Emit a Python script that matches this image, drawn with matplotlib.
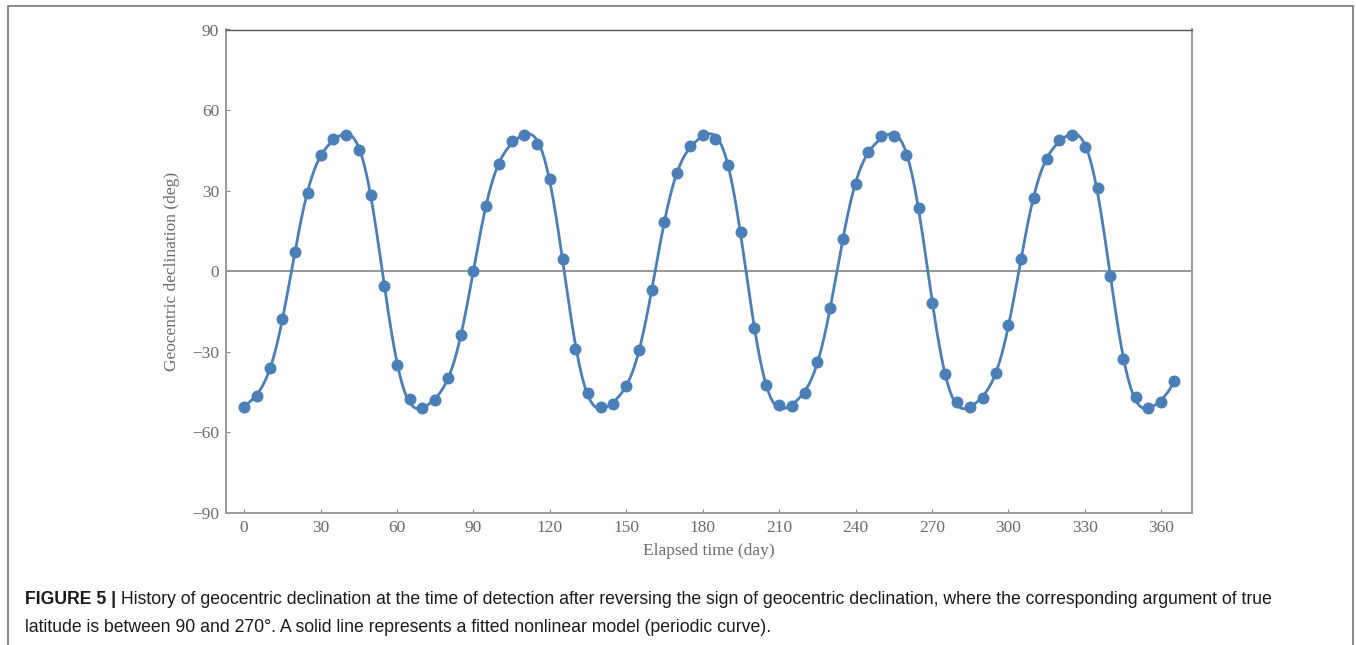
"""Geocentric declination history with a fitted periodic curve."""

import matplotlib

matplotlib.use("Agg")
import matplotlib.pyplot as plt
import numpy as np
from matplotlib.patches import Rectangle

# elapsed time (day) and geocentric declination (deg)
days = list(range(0, 370, 5))
decl = [
    -50.4, -46.4, -36.2, -17.9, 7.2, 29.2, 43.1, 49.4, 50.6, 45.2,
    28.5, -5.5, -34.9, -47.6, -50.9, -48.0, -39.8, -23.9, 0.0, 24.2,
    39.8, 48.4, 50.9, 47.2, 34.5, 4.7, -28.8, -45.5, -50.5, -49.4,
    -42.6, -29.2, -6.9, 18.2, 36.7, 46.5, 50.6, 49.1, 39.5, 14.6,
    -21.1, -42.3, -49.8, -50.0, -45.2, -33.9, -13.6, 11.9, 32.4, 44.4,
    50.2, 50.2, 43.4, 23.6, -11.8, -38.1, -48.6, -50.7, -47.3, -37.7,
    -20.1, 4.7, 27.4, 41.9, 49.0, 50.6, 46.2, 31.0, -1.6, -32.6,
    -46.9, -50.9, -48.6, -40.9,
]

x_ticks = [0, 30, 60, 90, 120, 150, 180, 210, 240, 270, 300, 330, 360]
y_ticks = [-90, -60, -30, 0, 30, 60, 90]

caption_head = "FIGURE 5 |"
caption_l1 = (" History of geocentric declination at the time of detection after reversing "
              "the sign of geocentric declination, where the corresponding argument of true")
caption_l2 = "latitude is between 90 and 270°. A solid line represents a fitted nonlinear model (periodic curve)."

BLUE = "#4a7fb8"
GREY_TXT = "#6b6b6b"


def fit_periodic(t, y, n_harm=3):
    # least-squares Fourier fit, period picked by a simple scan
    t = np.asarray(t, float)
    y = np.asarray(y, float)

    def design(tt, p):
        cols = [np.ones_like(tt)]
        for k in range(1, n_harm + 1):
            cols += [np.cos(2 * np.pi * k * tt / p), np.sin(2 * np.pi * k * tt / p)]
        return np.column_stack(cols)

    best = None
    for p in np.linspace(60, 85, 2501):
        coef, *_ = np.linalg.lstsq(design(t, p), y, rcond=None)
        err = np.sum((design(t, p) @ coef - y) ** 2)
        if best is None or err < best[0]:
            best = (err, p, coef)
    _, p, coef = best
    return lambda tt: design(np.asarray(tt, float), p) @ coef


model = fit_periodic(days, decl)
t_fine = np.linspace(min(days), max(days), 1500)

fig = plt.figure(figsize=(13.56, 6.45), dpi=100)
ax = fig.add_axes([226 / 1356, 1 - 513 / 645, (1192.3 - 226) / 1356, (513 - 29.5) / 645])

ax.axhline(0, color="#7a7a7a", lw=1.1, zorder=1)
ax.plot(t_fine, model(t_fine), color=BLUE, lw=2.0, zorder=2)
ax.plot(days, decl, "o", color=BLUE, ms=7.6, mec=BLUE, zorder=3)

ax.set_xlim(-7.1, 372.2)
ax.set_ylim(-90, 90)
ax.set_xticks(x_ticks)
ax.set_yticks(y_ticks)
ax.set_yticklabels([f"\u2212{abs(v)}" if v < 0 else str(v) for v in y_ticks])

serif = ["Liberation Serif", "DejaVu Serif"]
for lab in ax.get_xticklabels() + ax.get_yticklabels():
    lab.set_family(serif)
    lab.set_fontsize(12.5)
    lab.set_color(GREY_TXT)
ax.tick_params(direction="in", length=3, width=0.8, color="#8a8a8a", pad=5)
ax.tick_params(axis="y", pad=5)

ax.set_xlabel("Elapsed time (day)", family=serif, fontsize=12.5, color=GREY_TXT, labelpad=5)
ax.set_ylabel("Geocentric declination (deg)", family=serif, fontsize=12.5, color=GREY_TXT,
              labelpad=9)

for side in ("left", "bottom", "right"):
    ax.spines[side].set_color("#9a9a9a")
    ax.spines[side].set_linewidth(1.4)
ax.spines["top"].set_color("#555555")
ax.spines["top"].set_linewidth(1.0)

# outer frame of the figure panel
fig.patches.append(Rectangle((8 / 1356, -0.02), (1353 - 8) / 1356, 1 - 6 / 645 + 0.02,
                             transform=fig.transFigure, fill=False, ec="#777777", lw=1.2))

sans = ["Liberation Sans", "DejaVu Sans"]
fs_cap = 12.7
y1 = 1 - 604 / 645
head = fig.text(25 / 1356, y1, caption_head, family=sans, fontsize=fs_cap, weight="bold",
                color="#1a1a1a", va="baseline")
fig.canvas.draw()
bb = head.get_window_extent()
fig.text(bb.x1 / 1356, y1, caption_l1, family=sans, fontsize=fs_cap, color="#1a1a1a",
         va="baseline")
fig.text(25 / 1356, 1 - 632 / 645, caption_l2, family=sans, fontsize=fs_cap, color="#1a1a1a",
         va="baseline")

fig.savefig("out.png", dpi=100)
